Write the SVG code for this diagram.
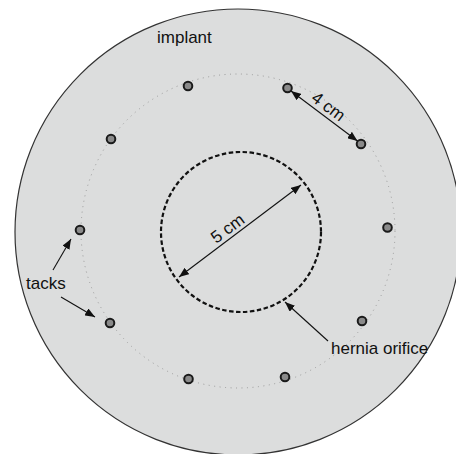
<svg xmlns="http://www.w3.org/2000/svg" width="456" height="454" viewBox="0 0 456 454">
<style>
text{font-family:"Liberation Sans",Arial,sans-serif;font-size:17px;fill:#111}
.tack{fill:#8a8a8a;stroke:#1a1a1a;stroke-width:2}
.conn{stroke:#111;stroke-width:1.1;fill:none}
</style>
<defs>
<marker id="ah" viewBox="0 0 10 8" refX="10" refY="4" markerWidth="10" markerHeight="8" markerUnits="userSpaceOnUse" orient="auto-start-reverse">
<path d="M0,0 L10,4 L0,8 Z" fill="#111"/>
</marker>
</defs>
<rect width="456" height="454" fill="#fff"/>
<g id="implant">
<circle cx="238" cy="232" r="223" fill="#dcdddd" stroke="#333" stroke-width="1.2"/>
<text x="157" y="43">implant</text>
</g>
<g id="tack-ring">
<circle cx="238" cy="231" r="157" fill="none" stroke="#9a9a9a" stroke-width="1" stroke-dasharray="1,4.5"/>
</g>
<g id="hernia-orifice">
<circle cx="241" cy="232" r="80" fill="none" stroke="#111" stroke-width="2.2" stroke-dasharray="4.5,2.5"/>
</g>
<g id="tacks">
<circle class="tack" cx="188" cy="86" r="4.3"/>
<circle class="tack" cx="287.5" cy="88" r="4.3"/>
<circle class="tack" cx="361" cy="144" r="4.3"/>
<circle class="tack" cx="111" cy="139" r="4.3"/>
<circle class="tack" cx="80" cy="230" r="4.3"/>
<circle class="tack" cx="387.5" cy="227.5" r="4.3"/>
<circle class="tack" cx="110" cy="323" r="4.3"/>
<circle class="tack" cx="362" cy="321" r="4.3"/>
<circle class="tack" cx="188.5" cy="379" r="4.3"/>
<circle class="tack" cx="285" cy="377" r="4.3"/>
</g>
<g id="connectors">
<line class="conn" x1="291" y1="91" x2="357.5" y2="141" marker-start="url(#ah)" marker-end="url(#ah)"/>
<line class="conn" x1="179" y1="277" x2="301" y2="185" marker-start="url(#ah)" marker-end="url(#ah)"/>
<line class="conn" x1="53" y1="270" x2="71" y2="239" marker-end="url(#ah)"/>
<line class="conn" x1="61" y1="297" x2="95" y2="317" marker-end="url(#ah)"/>
<line class="conn" x1="328" y1="341" x2="285" y2="302" marker-end="url(#ah)"/>
</g>
<g id="labels">
<text x="0" y="0" text-anchor="middle" transform="translate(325,111) rotate(37)">4 cm</text>
<text x="0" y="0" text-anchor="middle" transform="translate(231,233) rotate(-37)">5 cm</text>
<text x="26" y="289">tacks</text>
<text x="331" y="354">hernia orifice</text>
</g>
</svg>
